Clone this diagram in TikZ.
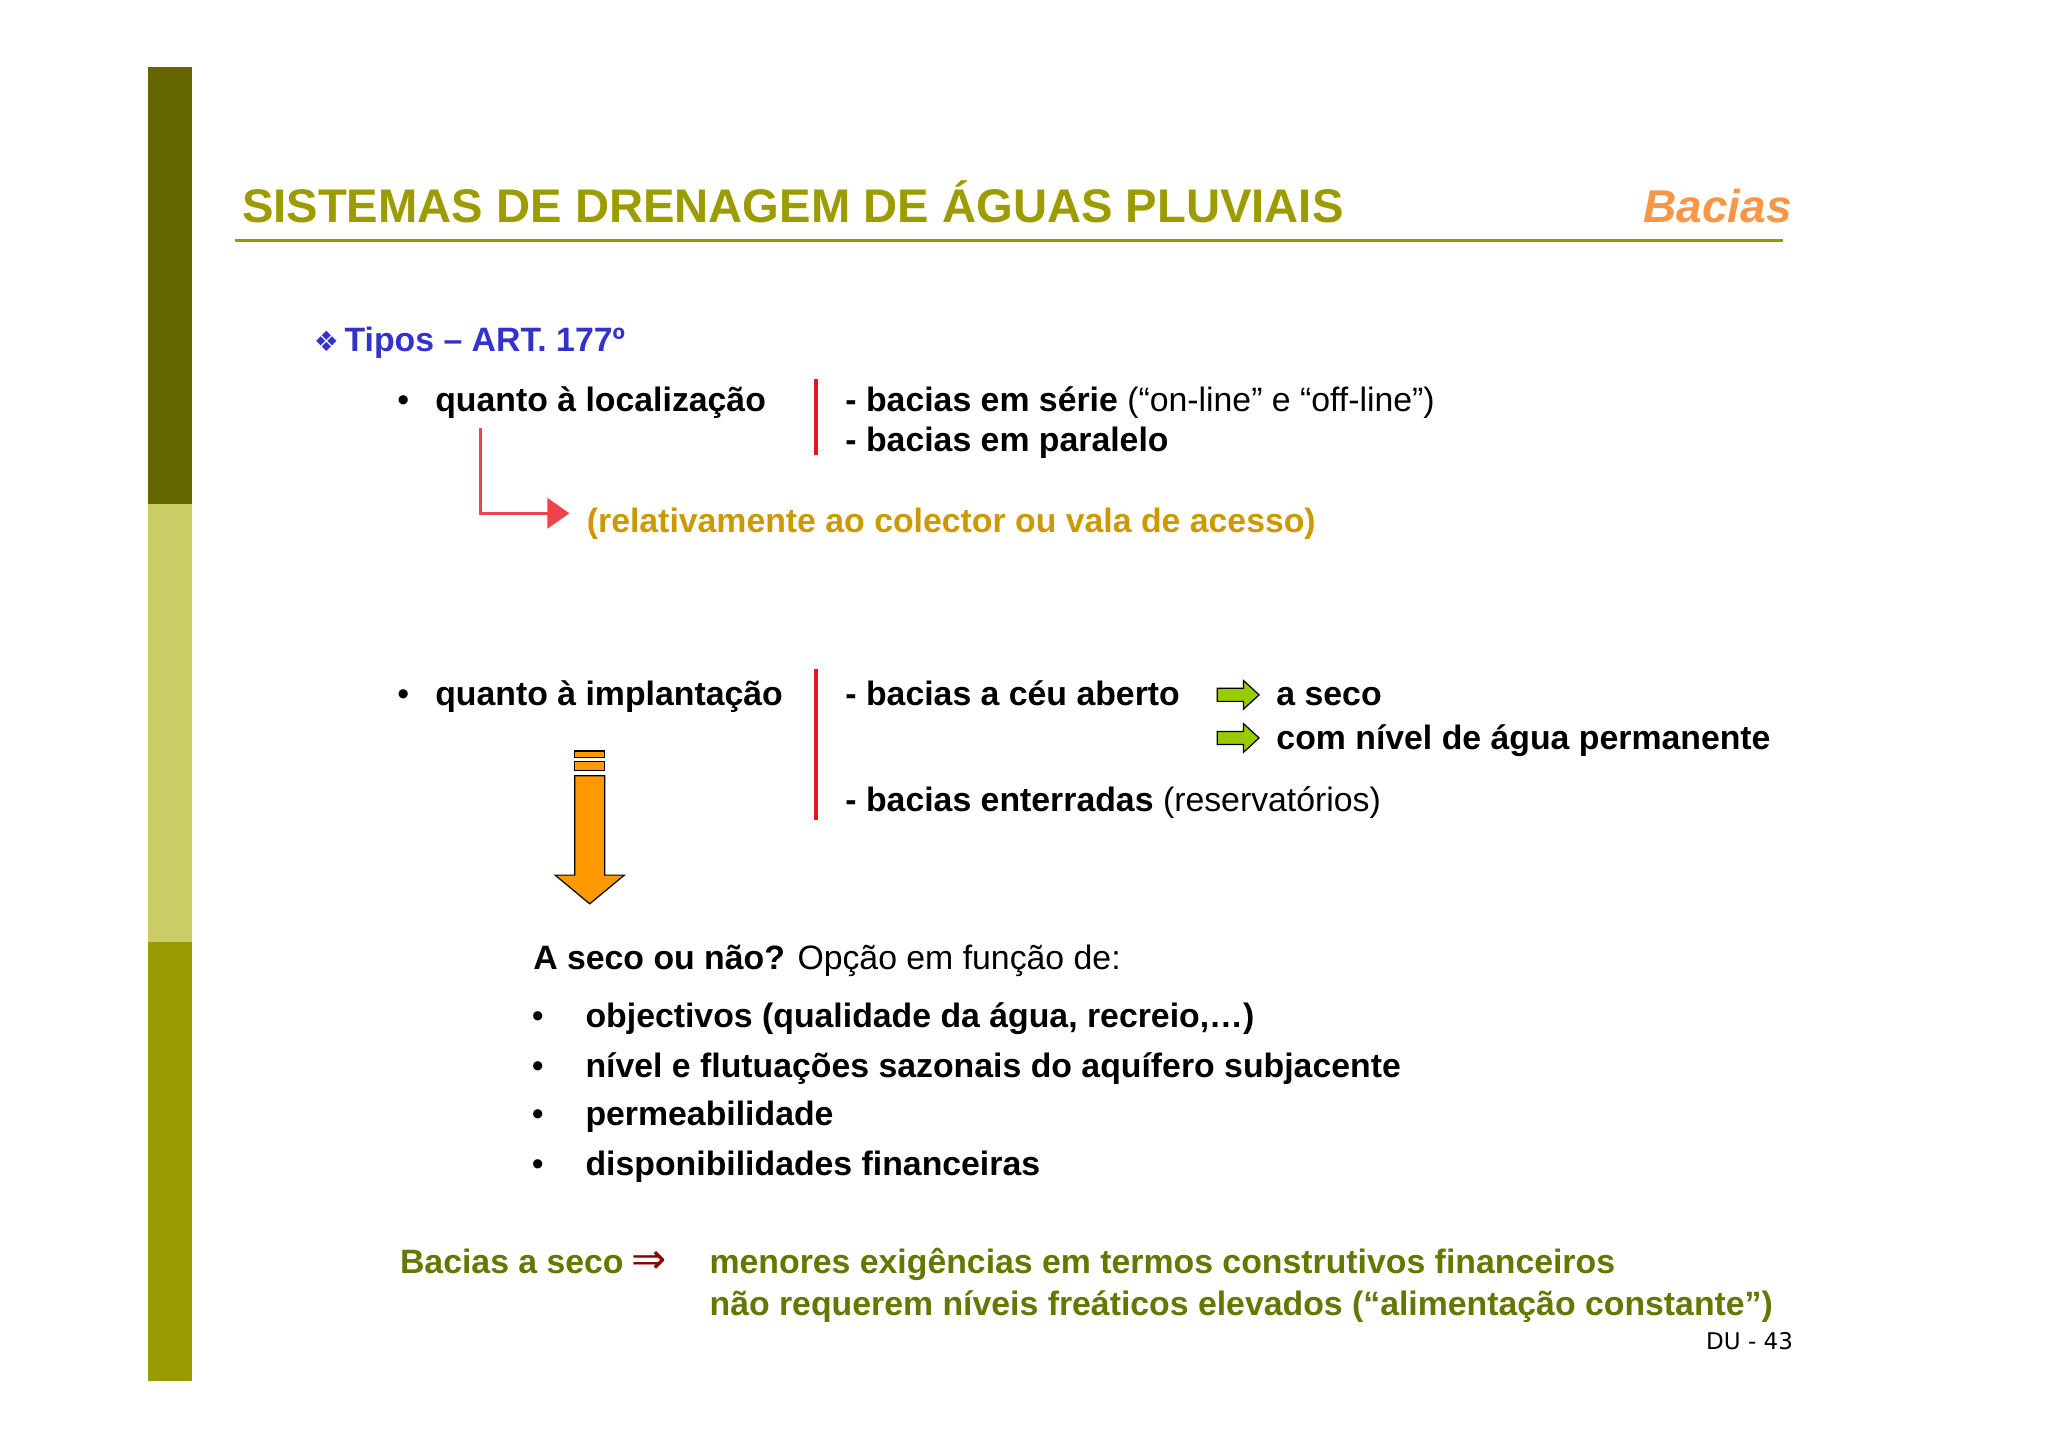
\documentclass[tikz,border=0pt]{standalone}
\usepackage{fontspec}
\setmainfont{Liberation Sans}
\newfontfamily\djv{DejaVu Sans}
\usetikzlibrary{arrows.meta}
\definecolor{oliveA}{HTML}{666600}
\definecolor{oliveB}{HTML}{CCCC66}
\definecolor{oliveC}{HTML}{999900}
\definecolor{titleC}{HTML}{9C9C00}
\definecolor{orangeT}{HTML}{F79646}
\definecolor{blueT}{HTML}{3333CC}
\definecolor{goldT}{HTML}{CC9900}
\definecolor{redL}{HTML}{E8141E}
\definecolor{greenA}{HTML}{99CC00}
\definecolor{orangeA}{HTML}{FF9900}
\definecolor{bottomT}{HTML}{667700}
\newcommand{\bodyfs}{\fontsize{16.9}{19}\selectfont}
\begin{document}
\begin{tikzpicture}[x=0.653pt,y=-0.653pt,
  txt/.style={anchor=base west,inner sep=0pt,font=\bodyfs},
  btxt/.style={anchor=base west,inner sep=0pt,font=\bodyfs\bfseries},
  redbar/.style={draw=redL,line width=2pt},
  garrow/.style={draw=black,fill=greenA,line width=0.6pt}]
\useasboundingbox (0,0) rectangle (1568,1109);
\fill[white] (0,0) rectangle (1568,1109);
\fill[oliveA] (113,51) rectangle (147,386);
\fill[oliveB] (113,386) rectangle (147,721);
\fill[oliveC] (113,721) rectangle (147,1057);
\node[anchor=base west,inner sep=0pt,font=\fontsize{23.6}{26}\selectfont\bfseries,text=titleC] (title) at (185,170) {SISTEMAS DE DRENAGEM DE ÁGUAS PLUVIAIS};
\node[anchor=base east,inner sep=0pt,font=\fontsize{23}{26}\selectfont\bfseries\itshape,text=orangeT] (bac) at (1372,170) {Bacias};
\draw[oliveC,line width=1.6pt] (180,184) -- (1365,184);
\node[btxt,text=blueT] (tipos) at (240,269) {{\djv\fontsize{14}{15}\selectfont ❖}\,Tipos – ART. 177º};
\node[txt] (b1) at (304,315) {•};
\node[btxt] (loc) at (333,315) {quanto à localização};
\draw[redbar] (625,290) -- (625,348);
\node[txt] (serie) at (647,315) {\textbf{- bacias em série} (“on-line” e “off-line”)};
\node[txt] (par) at (647,346) {\textbf{- bacias em paralelo}};
\coordinate (ls) at (368,328);
\coordinate (ra) at (436,393);
\node[btxt,text=goldT] (rel) at (449,408) {(relativamente ao colector ou vala de acesso)};
\draw[redL!80,line width=1.5pt,-{Triangle[length=11pt,width=15pt]}] (ls) |- (ra);
\node[txt] (b2) at (304,540) {•};
\node[btxt] (imp) at (333,540) {quanto à implantação};
\draw[redbar] (625,512) -- (625,628);
\node[txt] (ceu) at (647,540) {\textbf{- bacias a céu aberto}};
\foreach \yy [count=\k] in {532,565}{
  \filldraw[garrow] (932,\yy-5) -- (952,\yy-5) -- (952,\yy-11) -- (964,\yy) -- (952,\yy+11) -- (952,\yy+5) -- (932,\yy+5) -- cycle;
}
\node[btxt] (seco) at (977,540) {a seco};
\node[btxt] (perm) at (977,574) {com nível de água permanente};
\node[txt] (ent) at (647,621) {\textbf{- bacias enterradas} (reservatórios)};
% orange arrow
\filldraw[fill=orangeA,draw=black,line width=0.6pt] (440,575) rectangle (463,580);
\filldraw[fill=orangeA,draw=black,line width=0.6pt] (440,583) rectangle (463,590);
\filldraw[fill=orangeA,draw=black,line width=0.6pt] (440,594) -- (463,594) -- (463,670) -- (478,670) -- (451.5,692) -- (425,670) -- (440,670) -- cycle;
\node[txt] (q) at (408,742) {\textbf{A seco ou não?} Opção em função de:};
\foreach \y/\t [count=\i] in {787/{objectivos (qualidade da água, recreio,…)},825/{nível e flutuações sazonais do aquífero subjacente},862/{permeabilidade},900/{disponibilidades financeiras}}{
  \node[txt] (bb\i) at (407,\y) {•};
  \node[btxt] (it\i) at (448,\y) {\t};
}
\node[btxt,text=bottomT] (bs) at (306,975) {Bacias a seco};
\node[anchor=base west,inner sep=0pt,text=red!55!black,font=\djv\fontsize{21}{22}\selectfont] (imp2) at (483,975) {⇒};
\node[btxt,text=bottomT] (m1) at (543,975) {menores exigências em termos construtivos financeiros};
\node[btxt,text=bottomT] (m2) at (543,1007) {não requerem níveis freáticos elevados (“alimentação constante”)};
\node[anchor=base east,inner sep=0pt,font=\djv\fontsize{11.5}{13}\selectfont] (du) at (1373,1033) {DU - 43};
\end{tikzpicture}
\end{document}
